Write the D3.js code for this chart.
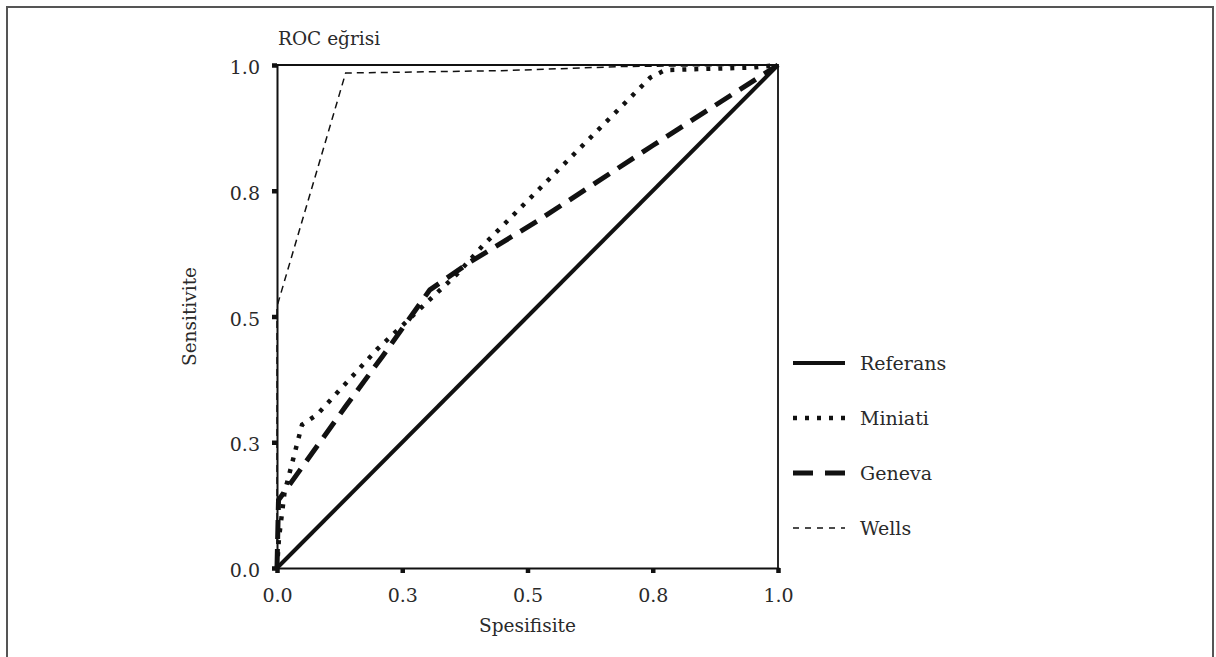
<!DOCTYPE html>
<html><head><meta charset="utf-8">
<script src="https://cdn.jsdelivr.net/npm/d3@7"></script>
<style>body{margin:0;background:#fff}svg{display:block}text{font-family:"DejaVu Serif",serif;fill:#2a2a2a}</style>
</head><body><svg id="c" width="1216" height="657"></svg>
<script>
const tickValues = [0, 0.25, 0.5, 0.75, 1.0];
const tickLabels = ["0.0", "0.3", "0.5", "0.8", "1.0"];
const seriesNames = ["Referans", "Miniati", "Geneva", "Wells"];
const referansX = [0, 1];
const referansY = [0, 1];
const miniatiX = [0, 0.004, 0.015, 0.05, 0.08, 0.2, 0.36, 0.41, 0.745, 0.775, 0.95, 1.0];
const miniatiY = [0, 0.06, 0.15, 0.285, 0.305, 0.435, 0.585, 0.64, 0.975, 0.99, 0.995, 1.0];
const genevaX = [0, 0.003, 0.136, 0.21, 0.305, 0.385, 0.52, 0.75, 1.0];
const genevaY = [0, 0.135, 0.32, 0.42, 0.553, 0.608, 0.69, 0.84, 1.0];
const wellsX = [0, 0, 0.137, 0.46, 0.69, 1.0];
const wellsY = [0, 0.52, 0.984, 0.989, 0.997, 1.0];

const svg = d3.select("#c");
const L = 277, R = 778, T = 65, B = 568;
const x = d3.scaleLinear().domain([0, 1]).range([L, R]);
const y = d3.scaleLinear().domain([0, 1]).range([B, T]);

svg.append("path").attr("d", `M7,670 L7,7 L1213,7 L1213,670`)
  .attr("fill", "none").attr("stroke", "#555").attr("stroke-width", 2);

svg.append("path").attr("d", `M${L},${T} L${R},${T} L${R},${B}`)
  .attr("fill", "none").attr("stroke", "#111").attr("stroke-width", 1.8);

const styles = {
  Referans: {w: 4, dash: null},
  Miniati: {w: 4.5, dash: "4,8"},
  Geneva: {w: 5, dash: "19,10"},
  Wells: {w: 1.5, dash: "7,5"}
};
const data = {
  Referans: referansX.map((v, i) => [v, referansY[i]]),
  Miniati: miniatiX.map((v, i) => [v, miniatiY[i]]),
  Geneva: genevaX.map((v, i) => [v, genevaY[i]]),
  Wells: wellsX.map((v, i) => [v, wellsY[i]])
};
const line = d3.line().x(d => x(d[0])).y(d => y(d[1]));
["Wells", "Geneva", "Miniati", "Referans"].forEach(n => {
  svg.append("path").datum(data[n]).attr("d", line)
    .attr("fill", "none").attr("stroke", "#111")
    .attr("stroke-width", styles[n].w)
    .attr("stroke-dasharray", styles[n].dash);
});

const xAxis = d3.axisBottom(x).tickValues(tickValues).tickSize(5).tickPadding(16)
  .tickFormat((d, i) => tickLabels[i]);
const yAxis = d3.axisLeft(y).tickValues(tickValues).tickSize(5).tickPadding(12)
  .tickFormat((d, i) => tickLabels[i]);
const gx = svg.append("g").attr("transform", `translate(0,${B})`).call(xAxis);
const gy = svg.append("g").attr("transform", `translate(${L},0)`).call(yAxis);
[gx, gy].forEach(g => {
  g.select(".domain").attr("stroke", "#111").attr("stroke-width", 2);
  g.selectAll(".tick line").attr("stroke", "#111").attr("stroke-width", 4.5);
  g.selectAll(".tick text").style("font-size", "19px").attr("fill", "#2a2a2a")
    .style("font-family", "'DejaVu Serif', serif");
});
gx.selectAll(".tick text").attr("dy", "0.71em");
gy.selectAll(".tick text").attr("dy", "0.45em");

svg.append("text").attr("x", 278).attr("y", 45).style("font-size", "18.5px").text("ROC eğrisi");
svg.append("text").attr("x", x(0.5)).attr("y", 632).attr("text-anchor", "middle")
  .style("font-size", "18.5px").text("Spesifisite");
svg.append("text").attr("transform", `translate(196,${y(0.5)}) rotate(-90)`)
  .attr("text-anchor", "middle").style("font-size", "18.5px").text("Sensitivite");

const legY = [363, 418, 473, 528];
seriesNames.forEach((n, i) => {
  svg.append("line").attr("x1", 793).attr("x2", 845).attr("y1", legY[i]).attr("y2", legY[i])
    .attr("stroke", "#111").attr("stroke-width", styles[n].w)
    .attr("stroke-dasharray", n === "Geneva" ? "20,12" : n === "Wells" ? "6,6" : styles[n].dash);
  svg.append("text").attr("x", 860).attr("y", legY[i]).attr("dy", "0.36em")
    .style("font-size", "19px").text(n);
});
</script></body></html>
